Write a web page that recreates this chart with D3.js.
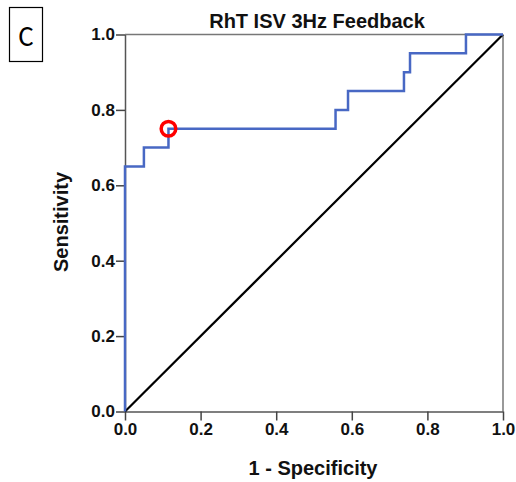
<!DOCTYPE html>
<html><head><meta charset="utf-8">
<script src="https://cdn.jsdelivr.net/npm/d3@7"></script>
<style>body{margin:0;background:#fff;} svg{display:block;}</style>
</head><body>
<script>
const fpr = [0, 0, 0.05, 0.05, 0.115, 0.115, 0.557, 0.557, 0.59, 0.59, 0.738, 0.738, 0.754, 0.754, 0.902, 0.902, 1.0];
const tpr = [0, 0.65, 0.65, 0.70, 0.70, 0.75, 0.75, 0.80, 0.80, 0.85, 0.85, 0.90, 0.90, 0.95, 0.95, 1.0, 1.0];
const cutoff = [0.115, 0.75];
const ticks = [0, 0.2, 0.4, 0.6, 0.8, 1.0];
const title = "RhT ISV 3Hz Feedback";
const xLabel = "1 - Specificity";
const yLabel = "Sensitivity";
const panel = "C";

const W = 516, H = 482;
const svg = d3.select("body").append("svg").attr("width", W).attr("height", H);
const x = d3.scaleLinear().domain([0, 1]).range([125, 503]);
const y = d3.scaleLinear().domain([0, 1]).range([411.5, 34.5]);
const font = "Liberation Sans, Arial, sans-serif";

// panel box
svg.append("rect").attr("x", 9.5).attr("y", 7.5).attr("width", 33).attr("height", 54)
  .attr("fill", "none").attr("stroke", "#000").attr("stroke-width", 1.2);
svg.append("text").attr("x", 26).attr("y", 46).attr("text-anchor", "middle")
  .attr("font-family", "Carlito, Calibri, 'Open Sans', sans-serif").attr("font-size", 28).text(panel);

// frame top/right
svg.append("line").attr("x1", x(0)).attr("x2", x(1)).attr("y1", y(1)).attr("y2", y(1))
  .attr("stroke", "#777").attr("stroke-width", 1.5);
svg.append("line").attr("x1", x(1)).attr("x2", x(1)).attr("y1", y(1)).attr("y2", y(0))
  .attr("stroke", "#777").attr("stroke-width", 1.5);

const fmt = d3.format(".1f");
const gx = svg.append("g").attr("transform", `translate(0,${y(0)})`)
  .call(d3.axisBottom(x).tickValues(ticks).tickFormat(fmt).tickSizeInner(9).tickSizeOuter(0).tickPadding(2));
const gy = svg.append("g").attr("transform", `translate(${x(0)},0)`)
  .call(d3.axisLeft(y).tickValues(ticks).tickFormat(fmt).tickSizeInner(9).tickSizeOuter(0).tickPadding(1));
[gx, gy].forEach(g => {
  g.select(".domain").attr("stroke", "#555").attr("stroke-width", 1.5);
  g.selectAll(".tick line").attr("stroke", "#444").attr("stroke-width", 1.5);
  g.selectAll(".tick text").attr("font-family", font).attr("font-weight", "bold")
    .attr("font-size", 17).attr("fill", "#111");
});

// diagonal
svg.append("line").attr("x1", x(0)).attr("y1", y(0)).attr("x2", x(1)).attr("y2", y(1))
  .attr("stroke", "#000").attr("stroke-width", 2.2);

// ROC
const pts = fpr.map((d, i) => [d, tpr[i]]);
svg.append("path").datum(pts)
  .attr("d", d3.line().x(d => x(d[0])).y(d => y(d[1])))
  .attr("fill", "none").attr("stroke", "#4868c4").attr("stroke-width", 2.5);

// cutoff marker
svg.append("circle").attr("cx", x(cutoff[0])).attr("cy", y(cutoff[1])).attr("r", 7.3)
  .attr("fill", "none").attr("stroke", "#ff0000").attr("stroke-width", 3.5);

// titles
svg.append("text").attr("x", 317).attr("y", 28).attr("text-anchor", "middle")
  .attr("font-family", font).attr("font-weight", "bold").attr("font-size", 20).attr("fill", "#111").text(title);
svg.append("text").attr("x", 313).attr("y", 475).attr("text-anchor", "middle")
  .attr("font-family", font).attr("font-weight", "bold").attr("font-size", 20).attr("fill", "#111").text(xLabel);
svg.append("text").attr("transform", "translate(68,222) rotate(-90)").attr("text-anchor", "middle")
  .attr("font-family", font).attr("font-weight", "bold").attr("font-size", 20).attr("fill", "#111").text(yLabel);
</script>
</body></html>
